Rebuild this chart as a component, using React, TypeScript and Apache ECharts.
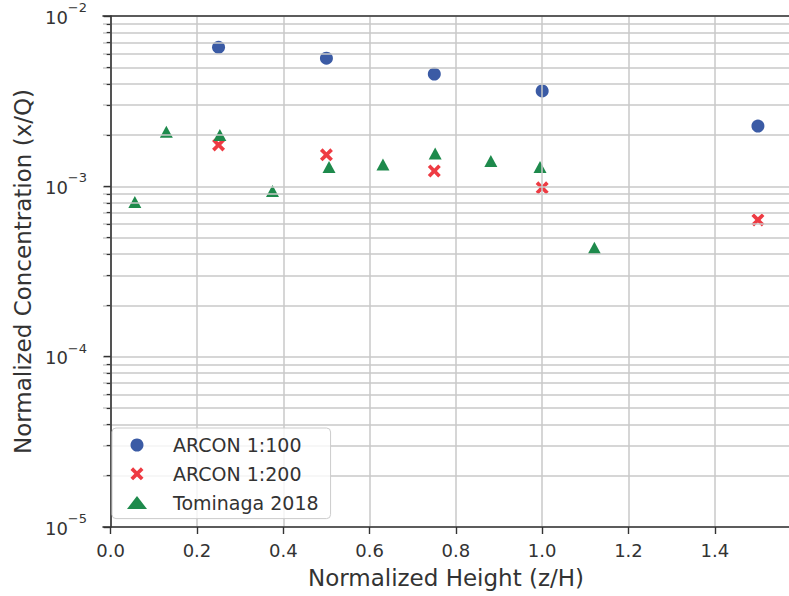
import React, { useEffect, useRef } from "react";
import * as echarts from "echarts";

// Normalized height (z/H) and normalized concentration (x/Q) per data set
const arcon100X = [0.25, 0.5, 0.75, 1.0, 1.5];
const arcon100Y = [6.55e-3, 5.65e-3, 4.56e-3, 3.63e-3, 2.26e-3];

const arcon200X = [0.25, 0.5, 0.75, 1.0, 1.5];
const arcon200Y = [1.75e-3, 1.53e-3, 1.23e-3, 9.8e-4, 6.35e-4];

const tominagaX = [0.056, 0.129, 0.253, 0.375, 0.506, 0.631, 0.752, 0.881, 0.995, 1.121];
const tominagaY = [8.1e-4, 2.09e-3, 2.0e-3, 9.4e-4, 1.3e-3, 1.345e-3, 1.56e-3, 1.41e-3, 1.3e-3, 4.36e-4];

const seriesNames = ["ARCON 1:100", "ARCON 1:200", "Tominaga 2018"];

// Axis ticks
const xTicks = [0, 0.2, 0.4, 0.6, 0.8, 1.0, 1.2, 1.4];
const yMajorTicks = [1e-5, 1e-4, 1e-3, 1e-2];
const yMinorSteps = [2, 3, 4, 5, 6, 7, 8, 9];

const X_MIN = -0.0178;
const X_MAX = 1.572;
const Y_MIN = 1e-5;
const Y_MAX = 1e-2;

const FONT = "DejaVu Sans";
const TEXT = "#333333";
const GRID = "#c8c8c8";
const SPINE = "#333333";

// a thick filled "x" marker
const CROSS = "path://M2,0L5,3L8,0L10,2L7,5L10,8L8,10L5,7L2,10L0,8L3,5L0,2Z";

const zip = (xs: number[], ys: number[]) => xs.map((x, i) => [x, ys[i]]);

export default function App() {
  const ref = useRef<HTMLDivElement>(null);

  useEffect(() => {
    if (!ref.current) return;
    const chart = echarts.init(ref.current, undefined, { renderer: "svg" });

    const yMinorTicks: number[] = [];
    for (let d = 0; d < yMajorTicks.length - 1; d++) {
      for (const s of yMinorSteps) yMinorTicks.push(Number((yMajorTicks[d] * s).toPrecision(3)));
    }

    const option: echarts.EChartsCoreOption = {
      animation: false,
      backgroundColor: "#ffffff",
      grid: { left: 103, top: 16, bottom: 69, right: -3.3, containLabel: false },
      legend: {
        orient: "vertical",
        left: 112,
        top: 428,
        data: seriesNames,
        itemWidth: 20,
        itemHeight: 13,
        itemGap: 8.8,
        padding: [7, 12, 6, 15],
        backgroundColor: "rgba(255,255,255,0.8)",
        borderColor: "#cccccc",
        borderWidth: 1,
        borderRadius: 4,
        z: 10,
        textStyle: {
          fontFamily: FONT,
          fontSize: 19,
          color: TEXT,
          lineHeight: 20,
          padding: [0, 0, 0, 21],
        },
      },
      xAxis: [
        {
          type: "value",
          min: X_MIN,
          max: X_MAX,
          z: 4,
          name: "Normalized Height (z/H)",
          nameLocation: "middle",
          nameGap: 39,
          nameTextStyle: { fontFamily: FONT, fontSize: 23, color: TEXT },
          axisLine: { show: true, lineStyle: { color: SPINE, width: 1.6 } },
          axisTick: {
            show: true,
            length: 7,
            customValues: xTicks,
            lineStyle: { color: SPINE, width: 1.4 },
          },
          axisLabel: {
            customValues: xTicks,
            margin: 14,
            fontFamily: FONT,
            fontSize: 18,
            color: TEXT,
            formatter: (v: number) => v.toFixed(1),
          },
          splitLine: { show: true, lineStyle: { color: GRID, width: 1.5 } },
        },
        {
          // top spine
          type: "value",
          position: "top",
          min: X_MIN,
          max: X_MAX,
          z: 5,
          axisLine: { show: true, lineStyle: { color: SPINE, width: 1.6 } },
          axisTick: { show: false },
          axisLabel: { show: false },
          splitLine: { show: false },
        },
      ],
      yAxis: [
        {
          type: "log",
          logBase: 10,
          min: Y_MIN,
          max: Y_MAX,
          z: 4,
          name: "Normalized Concentration (x/Q)",
          nameLocation: "middle",
          nameGap: 66,
          nameTextStyle: { fontFamily: FONT, fontSize: 23, color: TEXT },
          axisLine: { show: true, lineStyle: { color: SPINE, width: 1.6 } },
          axisTick: {
            show: true,
            length: 7,
            customValues: yMajorTicks,
            lineStyle: { color: SPINE, width: 1.4 },
          },
          axisLabel: {
            customValues: yMajorTicks,
            margin: 16,
            formatter: (v: number) => `{b|10}{s|\u2212${-Math.round(Math.log10(v))}}`,
            rich: {
              b: { fontFamily: FONT, fontSize: 18, color: TEXT, verticalAlign: "bottom", lineHeight: 20 },
              s: {
                fontFamily: FONT,
                fontSize: 13,
                color: TEXT,
                verticalAlign: "bottom",
                lineHeight: 14,
                padding: [0, 0, 12, 0],
              },
            },
          },
          splitLine: { show: true, lineStyle: { color: GRID, width: 1.5 } },
        },
        {
          // minor ticks and minor grid lines
          type: "log",
          logBase: 10,
          min: Y_MIN,
          max: Y_MAX,
          position: "left",
          z: 3,
          axisLine: { show: false },
          axisTick: {
            show: true,
            length: 4,
            customValues: yMinorTicks,
            lineStyle: { color: SPINE, width: 1.2 },
          },
          axisLabel: { show: false },
          splitLine: { show: true, lineStyle: { color: GRID, width: 1.5 } },
        },
      ],
      series: [
        {
          name: seriesNames[0],
          type: "scatter",
          symbol: "circle",
          symbolSize: 13,
          itemStyle: { color: "#3b5ba5", opacity: 1 },
          data: zip(arcon100X, arcon100Y),
        },
        {
          name: seriesNames[1],
          type: "scatter",
          symbol: CROSS,
          symbolSize: 13,
          itemStyle: { color: "#ee3b43", opacity: 1 },
          data: zip(arcon200X, arcon200Y),
        },
        {
          name: seriesNames[2],
          type: "scatter",
          symbol: "triangle",
          symbolSize: [13, 12],
          itemStyle: { color: "#1e8a4c", opacity: 1 },
          data: zip(tominagaX, tominagaY),
        },
      ],
    };

    chart.setOption(option);
    return () => chart.dispose();
  }, []);

  return (
    <div
      ref={ref}
      style={{ position: "fixed", left: 0, top: 0, width: 789, height: 596 }}
    />
  );
}
